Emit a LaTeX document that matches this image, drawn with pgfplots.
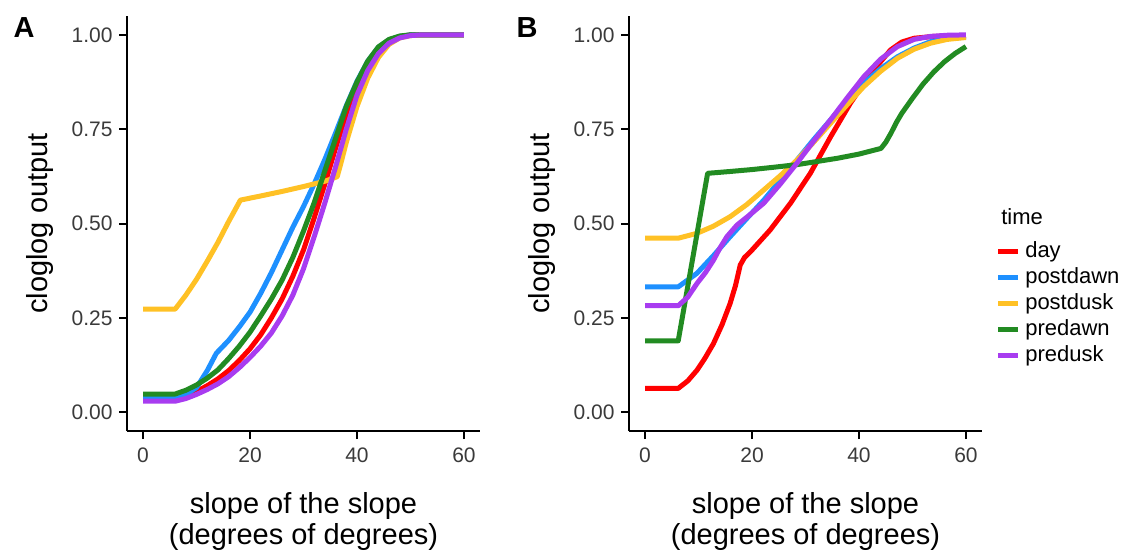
\documentclass[border=0pt]{standalone}
\usepackage{fontspec}
\setmainfont{Liberation Sans}
\usepackage{pgfplots}
\pgfplotsset{compat=1.18}
\definecolor{cday}{HTML}{FF0000}
\definecolor{cpostdawn}{HTML}{1E90FF}
\definecolor{cpostdusk}{HTML}{FFC125}
\definecolor{cpredawn}{HTML}{228B22}
\definecolor{cpredusk}{HTML}{A83CF0}
\definecolor{tickgray}{HTML}{3A3A3A}
\pgfplotsset{
  panel/.style={
    scale only axis, width=353pt, height=415pt,
    xmin=-3, xmax=63, ymin=-0.05, ymax=1.05,
    axis lines*=left,
    axis line style={line width=2pt, black},
    xtick={0,20,40,60}, xticklabels={0,20,40,60},
    ytick={0,0.25,0.5,0.75,1}, yticklabels={0.00,0.25,0.50,0.75,1.00},
    tick align=outside, major tick length=8pt,
    tick style={line width=2pt, black},
    ticklabel style={font=\fontsize{21}{24}\selectfont, text=tickgray},
    xticklabel shift=5pt, yticklabel shift=3pt,
    xlabel={slope of the slope\\(degrees of degrees)},
    xlabel style={font=\fontsize{29}{31}\selectfont, align=center,
      at={(axis description cs:0.5,-0.219)}, anchor=center},
    ylabel={cloglog output},
    ylabel style={font=\fontsize{29}{31}\selectfont,
      at={(axis description cs:-0.2465,0.5)}, anchor=center},
    every axis plot/.append style={line width=5pt, line join=round, no markers},
    clip mode=individual,
  }
}
\begin{document}
\begin{tikzpicture}
\useasboundingbox (0pt,0pt) rectangle (1139pt,-553pt);
\node[font=\fontsize{29}{30}\selectfont\bfseries] at (24pt,-28pt) {A};
\node[font=\fontsize{29}{30}\selectfont\bfseries] at (527pt,-28pt) {B};
% ---------------- Panel A ----------------
\begin{axis}[panel, at={(127pt,-431pt)}, anchor=south west]
\addplot[cday] coordinates {(0,0.036)(6,0.036)(8,0.043)(10,0.055)(12,0.07)(14,0.088)(16,0.11)(18,0.137)(20,0.168)(22,0.205)(24,0.25)(26,0.3)(28,0.36)(30,0.43)(32,0.515)(34,0.605)(36,0.7)(38,0.79)(40,0.865)(42,0.925)(44,0.963)(46,0.985)(48,0.995)(50,1)(60,1)};
\addplot[cpostdawn] coordinates {(0,0.04)(6,0.04)(8,0.047)(10,0.065)(12,0.11)(13.7,0.156)(16,0.19)(18,0.226)(20,0.265)(22,0.315)(24,0.37)(26,0.43)(28,0.49)(30,0.545)(32,0.605)(34,0.67)(36,0.74)(38,0.812)(40,0.877)(42,0.93)(44,0.967)(46,0.987)(48,0.996)(50,1)(60,1)};
\addplot[cpostdusk] coordinates {(0,0.273)(6,0.273)(8,0.31)(10,0.352)(12,0.4)(14,0.45)(16,0.505)(18.2,0.562)(22,0.573)(26,0.585)(30,0.598)(34,0.612)(36.3,0.624)(37,0.66)(38,0.715)(40,0.81)(42,0.885)(44,0.94)(46,0.975)(48,0.992)(50,0.998)(52,1)(60,1)};
\addplot[cpredawn] coordinates {(0,0.048)(6,0.048)(8,0.058)(10,0.072)(12,0.09)(14,0.112)(16,0.142)(18,0.175)(20,0.212)(22,0.255)(24,0.3)(26,0.35)(28,0.41)(30,0.48)(32,0.555)(34,0.64)(36,0.725)(38,0.81)(40,0.875)(42,0.93)(44,0.968)(46,0.988)(48,0.997)(50,1)(60,1)};
\addplot[cpredusk] coordinates {(0,0.029)(6,0.029)(8,0.036)(10,0.047)(12,0.06)(14,0.075)(16,0.094)(18,0.118)(20,0.145)(22,0.175)(24,0.21)(26,0.255)(28,0.31)(30,0.38)(32,0.465)(34,0.555)(36,0.65)(38,0.75)(40,0.84)(42,0.905)(44,0.95)(46,0.978)(48,0.992)(50,0.998)(52,1)(60,1)};
\end{axis}
% ---------------- Panel B ----------------
\begin{axis}[panel, at={(629pt,-431pt)}, anchor=south west,
  legend style={at={(axis description cs:1.039,0.4627)}, anchor=north west,
    draw=none, fill=none, inner sep=0pt, outer sep=0pt,
    font=\fontsize{22}{24}\selectfont, row sep=0pt,
    nodes={text height=15.5pt, text depth=4.5pt, inner ysep=3pt, inner xsep=4.5pt}},
  legend cell align=left,
  legend image code/.code={\draw[line width=5pt] (0pt,0pt)--(20pt,0pt);}]
\addplot[cday] coordinates {(0,0.063)(6.2,0.063)(8,0.083)(9.7,0.111)(11.2,0.143)(12.8,0.182)(14.4,0.232)(15.9,0.288)(16.9,0.335)(17.8,0.39)(18.6,0.41)(19.7,0.425)(23.4,0.483)(27.2,0.554)(30.9,0.633)(34.7,0.73)(38.4,0.819)(42.2,0.898)(45.9,0.96)(48,0.981)(50.3,0.991)(54,0.996)(60,0.998)};
\addlegendentry{day}
\addplot[cpostdawn] coordinates {(0,0.332)(6.2,0.332)(9.7,0.368)(12.8,0.415)(15.9,0.465)(19,0.513)(22.2,0.562)(25.3,0.615)(28.4,0.668)(31.5,0.722)(34.7,0.775)(37.8,0.825)(40.9,0.872)(44,0.91)(47.2,0.942)(50.3,0.965)(53.4,0.982)(56.5,0.99)(60,0.994)};
\addlegendentry{postdawn}
\addplot[cpostdusk] coordinates {(0,0.461)(6.2,0.461)(9.7,0.474)(12.8,0.493)(15.9,0.518)(19,0.55)(22.2,0.589)(25.3,0.627)(28.4,0.668)(31.5,0.715)(34.7,0.766)(37.8,0.815)(40.9,0.863)(44,0.903)(47.2,0.938)(50.3,0.962)(53.4,0.978)(56.5,0.988)(60,0.993)};
\addlegendentry{postdusk}
\addplot[cpredawn] coordinates {(0,0.189)(6.2,0.189)(11.7,0.633)(16,0.638)(20,0.643)(24,0.649)(28.4,0.656)(32,0.664)(36,0.673)(40,0.684)(44.1,0.699)(45,0.715)(46,0.74)(47,0.768)(48,0.792)(50,0.832)(52,0.87)(54,0.902)(56,0.929)(58,0.951)(60,0.969)};
\addlegendentry{predawn}
\addplot[cpredusk] coordinates {(0,0.282)(6.2,0.282)(8,0.305)(9.7,0.341)(11.3,0.37)(12.8,0.403)(14,0.435)(15.3,0.465)(17.2,0.496)(19.5,0.522)(22.2,0.554)(25.3,0.605)(28.4,0.66)(31.5,0.718)(34.7,0.775)(37.8,0.833)(40.9,0.889)(44,0.935)(47.2,0.969)(50.3,0.988)(53.4,0.996)(56.5,0.999)(60,1)};
\addlegendentry{predusk}
\node[anchor=west, inner sep=0pt, font=\fontsize{22}{24}\selectfont] at (axis description cs:1.054,0.516) {time};
\end{axis}
\end{tikzpicture}
\end{document}
